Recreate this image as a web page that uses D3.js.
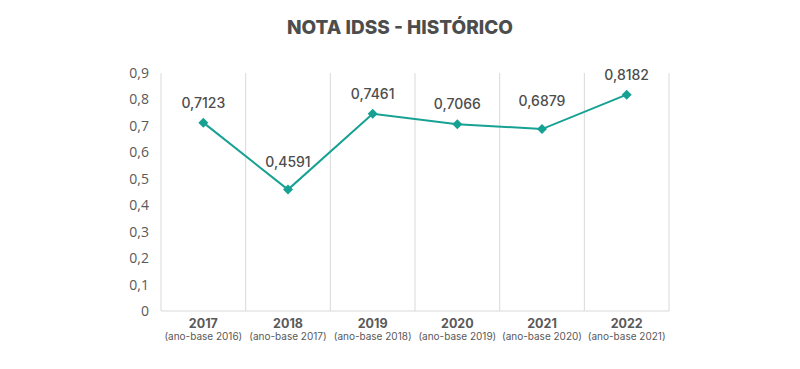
<!DOCTYPE html>
<html><head><meta charset="utf-8">
<script src="https://cdn.jsdelivr.net/npm/d3@7"></script>
<style>body{margin:0;background:#fff}svg{display:block}</style>
</head><body>
<svg id="c" width="800" height="369"></svg>
<script>
const years = ["2017","2018","2019","2020","2021","2022"];
const baseYears = ["(ano-base 2016)","(ano-base 2017)","(ano-base 2018)","(ano-base 2019)","(ano-base 2020)","(ano-base 2021)"];
const values = [0.7123, 0.4591, 0.7461, 0.7066, 0.6879, 0.8182];
const valueLabels = ["0,7123","0,4591","0,7461","0,7066","0,6879","0,8182"];
const yTicks = [0,0.1,0.2,0.3,0.4,0.5,0.6,0.7,0.8,0.9];
const title = "NOTA IDSS - HISTÓRICO";

const svg = d3.select("#c");
const L = 161, R = 669, T = 73, B = 311;
const teal = "#17a193";
const x = d3.scaleBand().domain(years).range([L, R]);
const y = d3.scaleLinear().domain([0, 0.9]).range([B, T]);

svg.append("text").attr("x", 400).attr("y", 34).attr("text-anchor", "middle")
  .attr("font-family", "Inter, sans-serif").attr("font-weight", 800).attr("font-size", 19)
  .attr("fill", "#4d4d4d").text(title);

// vertical gridlines at band edges
const edges = years.map(d => x(d)).concat([R]);
svg.append("g").selectAll("line").data(edges).join("line")
  .attr("x1", d => d).attr("x2", d => d).attr("y1", T).attr("y2", B)
  .attr("stroke", "#d9d9d9").attr("stroke-width", 1);

// bottom axis
svg.append("line").attr("x1", L).attr("x2", R).attr("y1", B).attr("y2", B)
  .attr("stroke", "#d9d9d9").attr("stroke-width", 1);

// y axis labels
const yAxis = d3.axisLeft(y).tickValues(yTicks).tickSize(0).tickPadding(12)
  .tickFormat(d => d === 0 ? "0" : d3.format(".1f")(d).replace(".", ","));
const ga = svg.append("g").attr("transform", `translate(${L},0)`).call(yAxis);
ga.select(".domain").remove();
ga.selectAll("text").attr("font-family", "'Open Sans', sans-serif").attr("font-size", 14).attr("fill", "#595959");

// x labels
const gx = svg.append("g");
gx.selectAll("text.yr").data(years).join("text").attr("class","yr")
  .attr("x", d => x(d) + x.bandwidth()/2).attr("y", 328).attr("text-anchor", "middle")
  .attr("font-family", "Inter, sans-serif").attr("font-weight", 700).attr("font-size", 12.5)
  .attr("fill", "#595959").text(d => d);
gx.selectAll("text.ab").data(baseYears).join("text").attr("class","ab")
  .attr("x", (d,i) => x(years[i]) + x.bandwidth()/2).attr("y", 340).attr("text-anchor", "middle")
  .attr("font-family", "Inter, sans-serif").attr("font-size", 10).attr("fill", "#595959").text(d => d);

// line
const pts = years.map((d,i) => [x(d) + x.bandwidth()/2, y(values[i])]);
svg.append("path").attr("d", d3.line()(pts)).attr("fill", "none").attr("stroke", teal).attr("stroke-width", 2);

svg.append("g").selectAll("path").data(pts).join("path")
  .attr("d", d3.symbol(d3.symbolSquare, 50)())
  .attr("transform", d => `translate(${d[0]},${d[1]}) rotate(45)`).attr("fill", teal);

// labels above points; push further up at local minima so text clears the line
const isMin = i => (i === 0 || values[i] < values[i-1]) && (i === values.length-1 || values[i] < values[i+1]) && i > 0 && i < values.length-1;
svg.append("g").selectAll("text").data(pts).join("text")
  .attr("x", d => d[0]).attr("y", (d,i) => d[1] - (isMin(i) ? 23 : 15)).attr("text-anchor", "middle")
  .attr("font-family", "Inter, sans-serif").attr("font-weight", 500).attr("font-size", 14)
  .attr("fill", "#4d4d4d").text((d,i) => valueLabels[i]);
</script>
</body></html>
